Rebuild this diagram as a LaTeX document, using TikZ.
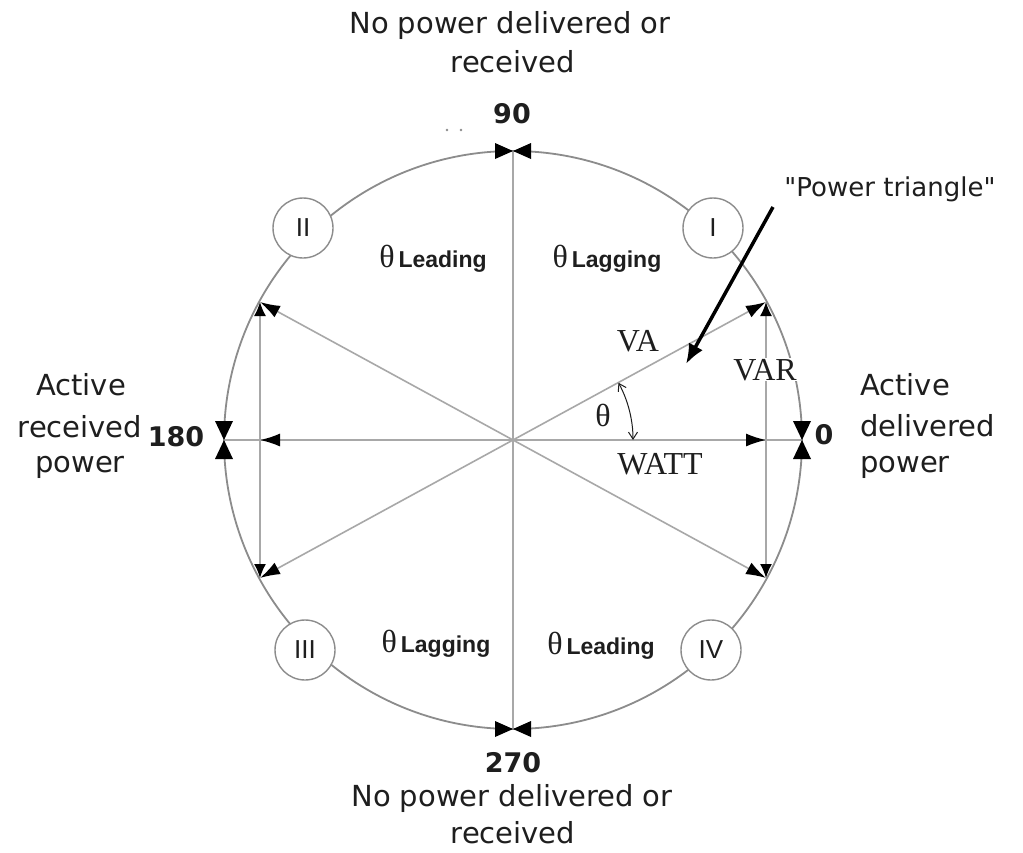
\documentclass[tikz,border=0pt]{standalone}
\usepackage{fontspec}
\setmainfont{DejaVu Sans}
\newfontfamily\serifface{Liberation Serif}
\newfontfamily\arialface{Liberation Sans}
\newfontfamily\plainface{DejaVu Sans}[Ligatures=TeXOff]
\usetikzlibrary{arrows.meta}
\definecolor{txt}{HTML}{1E1E1E}
\definecolor{ln}{HTML}{8C8C8C}
\definecolor{lnl}{HTML}{A8A8A8}
\tikzset{
  caption/.style={font=\fontsize{29}{29}\selectfont, text=txt, inner sep=0, anchor=base},
  numlab/.style={font=\bfseries\fontsize{27}{27}\selectfont, text=txt, inner sep=0, anchor=base},
  quadrant/.style={circle, draw=ln, line width=1.4pt, fill=white, minimum size=60pt, inner sep=0,
    font=\arialface\fontsize{26}{26}\selectfont, text=txt},
  trilab/.style={font=\serifface\fontsize{32}{32}\selectfont, text=txt, inner sep=0, anchor=base},
  phase/.style={font=\arialface\bfseries\fontsize{23}{23}\selectfont, text=txt, inner sep=0, anchor=base},
  thin/.style={draw=lnl, line width=1.6pt},
  rim/.style={draw=ln, line width=1.8pt},
  bigtip/.style={-{Latex[length=20pt,width=13pt,color=black]}},
  chordtip/.style={{Latex[length=14pt,width=12pt,color=black]}-{Latex[length=14pt,width=12pt,color=black]}},
}
\newcommand{\thetasym}{{\mdseries\serifface\fontsize{32}{32}\selectfont θ}}
\begin{document}
\begin{tikzpicture}[x=1pt,y=-1pt]
\useasboundingbox (0,0) rectangle (1023,852);
\fill[white] (0,0) rectangle (1023,852);
% key points
\coordinate (O) at (513,440);
\coordinate (T) at (513,151);
\coordinate (B) at (513,729);
\coordinate (L) at (224,440);
\coordinate (Rt) at (802,440);
\coordinate (P1) at (766,302);
\coordinate (P2) at (260,302);
\coordinate (P3) at (260,578);
\coordinate (P4) at (766,578);
\coordinate (W1) at (766,440);
\coordinate (W2) at (260,440);
% rim
\draw[rim] (O) circle[radius=289];
% diameters
\draw[thin] (T) -- (B);
\draw[thin] (L) -- (Rt);
\draw[thin, bigtip] (O) -- (W1);
\draw[thin, bigtip] (O) -- (W2);
% diagonals
\draw[thin, bigtip] (O) -- (P1);
\draw[thin, bigtip] (O) -- (P2);
\draw[thin, bigtip] (O) -- (P3);
\draw[thin, bigtip] (O) -- (P4);
% chords
\draw[thin, chordtip] (P1) -- (P4);
\draw[thin, chordtip] (P2) -- (P3);
% bowtie markers
\fill[black] (T) -- ++(-18,-8) -- ++(0,16) -- cycle;
\fill[black] (T) -- ++(18,-8) -- ++(0,16) -- cycle;
\fill[black] (B) -- ++(-18,-8) -- ++(0,16) -- cycle;
\fill[black] (B) -- ++(18,-8) -- ++(0,16) -- cycle;
\fill[black] (L) -- ++(-9,-19) -- ++(18,0) -- cycle;
\fill[black] (L) -- ++(-9,19) -- ++(18,0) -- cycle;
\fill[black] (Rt) -- ++(-9,-19) -- ++(18,0) -- cycle;
\fill[black] (Rt) -- ++(-9,19) -- ++(18,0) -- cycle;
% quadrant circles
\node[quadrant] (q1) at (713,228) {I};
\node[quadrant] (q2) at (303,228) {II};
\node[quadrant] (q3) at (305,650) {III};
\node[quadrant] (q4) at (711,650) {IV};
% angle arc
\draw[draw=txt, line width=1pt, {Straight Barb[length=7pt,width=9pt]}-{Straight Barb[length=7pt,width=9pt]}]
  (O) ++(-28.5:120) arc[start angle=-28.5, end angle=0, radius=120];
% triangle labels
\node[trilab] (va) at (638,351) {VA};
\node[trilab, fill=white, inner sep=1pt] (var) at (765,380) {VAR};
\node[trilab] (watt) at (660,474) {WATT};
\node[trilab] (th) at (603,426) {θ};
% numbers
\node[numlab] (n90) at (512,123) {90};
\node[numlab] (n270) at (513,772) {270};
\node[numlab] (n180) at (176,446) {180};
\node[numlab] (n0) at (824,444) {0};
\fill[ln] (447,130) circle[radius=1.3];
\fill[ln] (461,130) circle[radius=1.3];
% captions
\node[caption] (top1) at (510,33) {No power delivered or};
\node[caption] (top2) at (513,72) {received};
\node[caption] (bot1) at (512,806) {No power delivered or};
\node[caption] (bot2) at (513,843) {received};
\node[caption] (l1) at (81,395) {Active};
\node[caption] (l2) at (80,437) {received};
\node[caption] (l3) at (80,472) {power};
\node[caption, anchor=base west] (r1) at (860,395) {Active};
\node[caption, anchor=base west] (r2) at (860,436) {delivered};
\node[caption, anchor=base west] (r3) at (860,472) {power};
% phase labels
\node[phase] (ph1) at (433,267) {\thetasym\,Leading};
\node[phase] (ph2) at (607,267) {\thetasym\,Lagging};
\node[phase] (ph3) at (436,652) {\thetasym\,Lagging};
\node[phase] (ph4) at (601,654) {\thetasym\,Leading};
% power triangle pointer
\node[font=\plainface\fontsize{26}{26}\selectfont, text=txt, inner sep=0, anchor=base] (pt) at (890,196) {"Power triangle"};
\coordinate (ptS) at (773,207);
\coordinate (ptE) at (686,364);
\draw[line width=3.5pt, -{Latex[length=20pt,width=16pt]}] (ptS) -- (ptE);
\end{tikzpicture}
\end{document}
